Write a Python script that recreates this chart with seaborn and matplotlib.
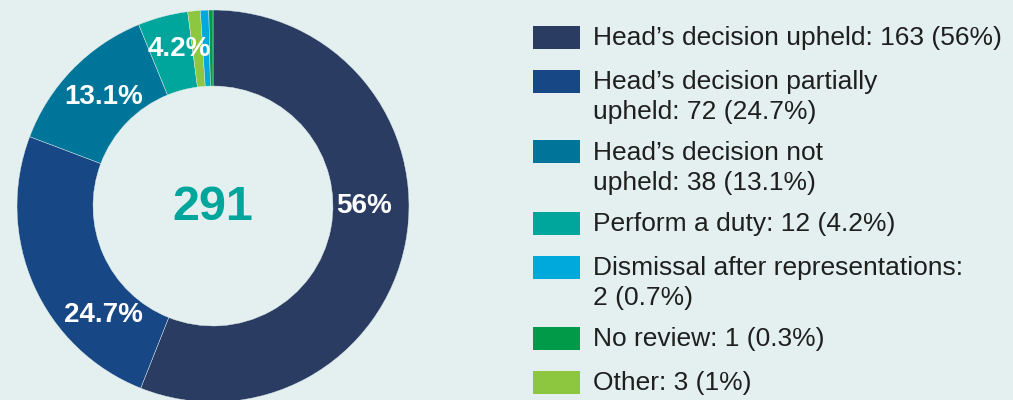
import matplotlib
matplotlib.use('Agg')
import matplotlib.pyplot as plt
from matplotlib.patches import Rectangle
import numpy as np
import seaborn as sns

#=====DATA=====
categories = ["Head\u2019s decision upheld", "Head\u2019s decision partially\nupheld",
              "Head\u2019s decision not\nupheld", "Perform a duty",
              "Dismissal after representations:\n", "No review", "Other"]
counts = [163, 72, 38, 12, 2, 1, 3]
pcts = ["56%", "24.7%", "13.1%", "4.2%", "0.7%", "0.3%", "1%"]
colors = ["#2b3c63", "#174784", "#00759a", "#00a59b", "#00a9dc", "#009a49", "#8dc63f"]
# order of slices round the ring, clockwise from 12 o'clock
pie_order = [0, 1, 2, 3, 6, 4, 5]
# slices that get a label inside the ring: (index, angle clockwise from top, radius)
inner_labels = [(0, 90, 0.77), (1, 225, 0.79), (2, 315, 0.79), (3, 348, 0.82)]
bg = "#e3f0ef"

#=====STYLE=====
sns.set_theme(style="white")
plt.rcParams['font.family'] = ['Liberation Sans', 'DejaVu Sans']

W, H = 1013, 400
fig = plt.figure(figsize=(W / 100, H / 100), dpi=100, facecolor=bg)

#=====DONUT=====
cx, cy, r = 213, 206, 196
ax = fig.add_axes([(cx - r) / W, (H - cy - r) / H, 2 * r / W, 2 * r / H])
ax.set_facecolor(bg)
ax.pie([counts[i] for i in pie_order], colors=[colors[i] for i in pie_order],
       startangle=90, counterclock=False, radius=1,
       wedgeprops=dict(width=0.388, edgecolor=bg, linewidth=0.3))
ax.set_xlim(-1, 1)
ax.set_ylim(-1, 1)
ax.axis('off')

for idx, ang, rr in inner_labels:
    a = np.deg2rad(ang)
    ax.text(rr * np.sin(a), rr * np.cos(a), pcts[idx], color="white",
            fontsize=20, fontweight="bold", ha="center", va="center")

ax.text(0, -0.01, str(sum(counts)), color="#00a59b", fontsize=35,
        fontweight="bold", ha="center", va="center")

#=====LEGEND=====
y = 37
for i, cat in enumerate(categories):
    if cat.endswith("\n"):
        label = f"{cat}{counts[i]} ({pcts[i]})"
    else:
        label = f"{cat}: {counts[i]} ({pcts[i]})"
    nlines = label.count("\n") + 1
    fig.add_artist(Rectangle((533 / W, (H - y - 11.5) / H), 47 / W, 23 / H,
                             transform=fig.transFigure, facecolor=colors[i],
                             edgecolor="none"))
    fig.text(593 / W, (H - y + 11) / H, label, fontsize=19, color="#1f1f1f",
             ha="left", va="top", linespacing=1.33)
    y += 44 if nlines == 1 else 71

fig.savefig("out.png", dpi=100, facecolor=bg)
